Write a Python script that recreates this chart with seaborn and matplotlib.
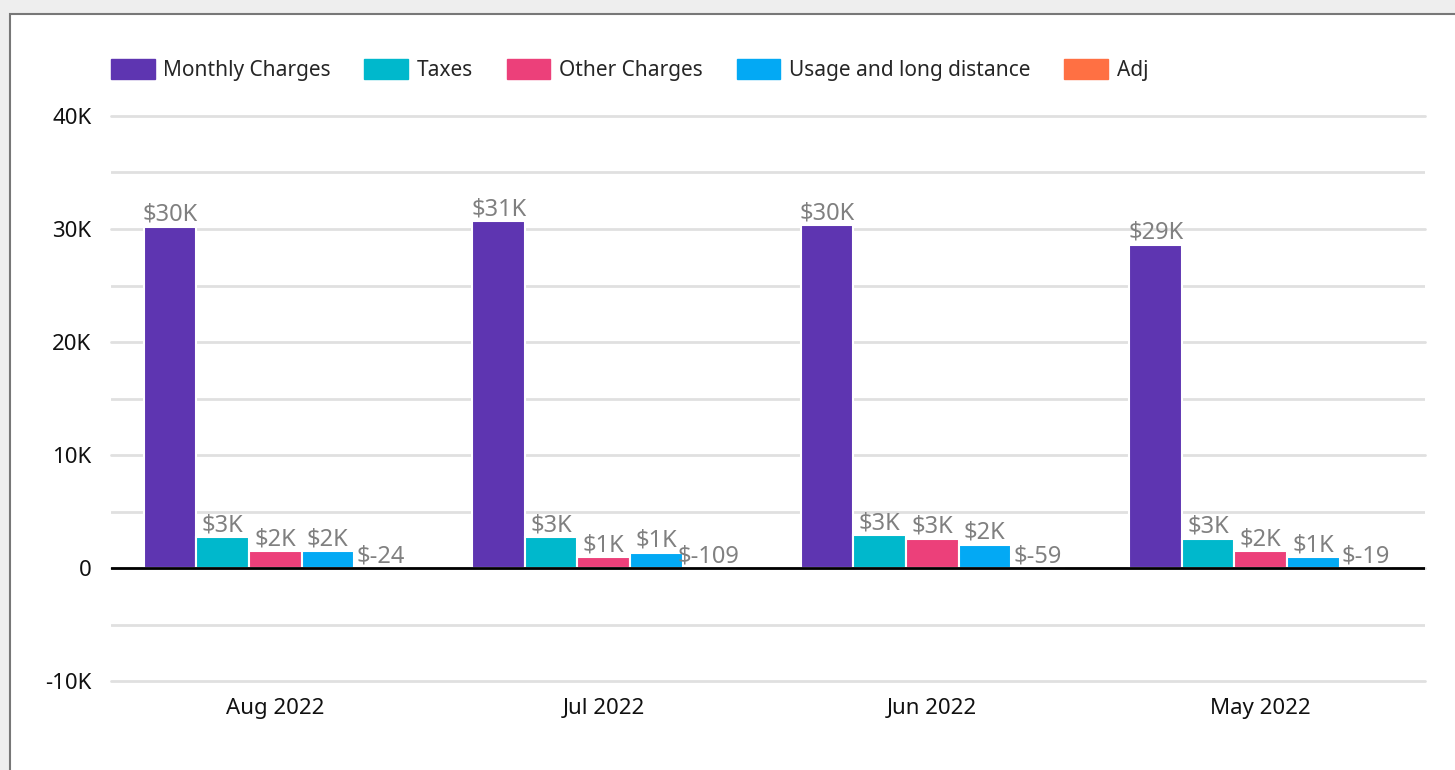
import numpy as np
import pandas as pd
import matplotlib
matplotlib.use("Agg")
import matplotlib.pyplot as plt
from matplotlib.patches import Rectangle
import seaborn as sns

# values
months = ["Aug 2022", "Jul 2022", "Jun 2022", "May 2022"]
series = ["Monthly Charges", "Taxes", "Other Charges", "Usage and long distance", "Adj"]
monthly_charges = [30200, 30700, 30350, 28600]
taxes = [2740, 2740, 2900, 2570]
other_charges = [1500, 970, 2570, 1500]
usage_long_distance = [1500, 1330, 2040, 970]
adj = [-24, -109, -59, -19]
colors = ["#5E35B1", "#00B8CC", "#EC407A", "#03A9F4", "#FF7043"]

rows = []
for name, vals in zip(series, [monthly_charges, taxes, other_charges, usage_long_distance, adj]):
    for m, v in zip(months, vals):
        rows.append({"month": m, "series": name, "value": v})
df = pd.DataFrame(rows)

sns.set_style("white")
plt.rcParams["font.family"] = ["Noto Sans", "DejaVu Sans"]

fig = plt.figure(figsize=(14.55, 7.7), dpi=100)
fig.patch.set_facecolor("#eeeeee")
# white card with grey border
fig.patches.append(Rectangle((9.5 / 1455, -0.05), 1.1, 1 - 13.5 / 770 + 0.05,
                             transform=fig.transFigure, facecolor="white",
                             edgecolor="#777777", linewidth=1.5, zorder=-1))

ax = fig.add_axes([111 / 1455, 1 - 681 / 770, (1425 - 111) / 1455, (681 - 116) / 770])
ax.set_facecolor("none")

sns.barplot(data=df, x="month", y="value", hue="series", hue_order=series,
            order=months, palette=colors, saturation=1, width=0.8,
            edgecolor="white", linewidth=1.5, errorbar=None, ax=ax, legend=False)

ax.set_ylim(-10000, 40000)
ax.set_yticks(np.arange(-10000, 40001, 10000))
ax.set_yticks(np.arange(-5000, 40000, 10000), minor=True)
ax.set_yticklabels(["-10K", "0", "10K", "20K", "30K", "40K"])
ax.grid(axis="y", which="both", color="#e0e0e0", linewidth=2)
ax.set_axisbelow(True)
for t in ax.yaxis.get_major_ticks():
    t.gridline.set_clip_on(False)
ax.axhline(0, color="black", linewidth=2, zorder=3)
for s in ax.spines.values():
    s.set_visible(False)
ax.tick_params(axis="both", which="both", length=0, labelsize=16, colors="#111111")
ax.tick_params(axis="y", pad=14)
ax.tick_params(axis="x", pad=12)
ax.set_xlabel("")
ax.set_ylabel("")


def fmt(v):
    if abs(v) >= 500:
        return "$%dK" % int(round(v / 1000.0))
    return "$%d" % v


for container in ax.containers:
    for bar in container:
        h = bar.get_height()
        ax.annotate(fmt(h), (bar.get_x() + bar.get_width() / 2, max(h, 0)),
                    xytext=(0, 0), textcoords="offset points",
                    ha="center", va="bottom", fontsize=17, color="#808080")

handles = [Rectangle((0, 0), 1, 1, color=c) for c in colors]
fig.legend(handles, series, loc="center left", bbox_to_anchor=(92 / 1455, 1 - 70 / 770),
           ncol=5, frameon=False, fontsize=15, handlelength=2.1, handleheight=1.1,
           handletextpad=0.43, columnspacing=1.6)

fig.savefig("out.png", dpi=100, facecolor=fig.get_facecolor())
